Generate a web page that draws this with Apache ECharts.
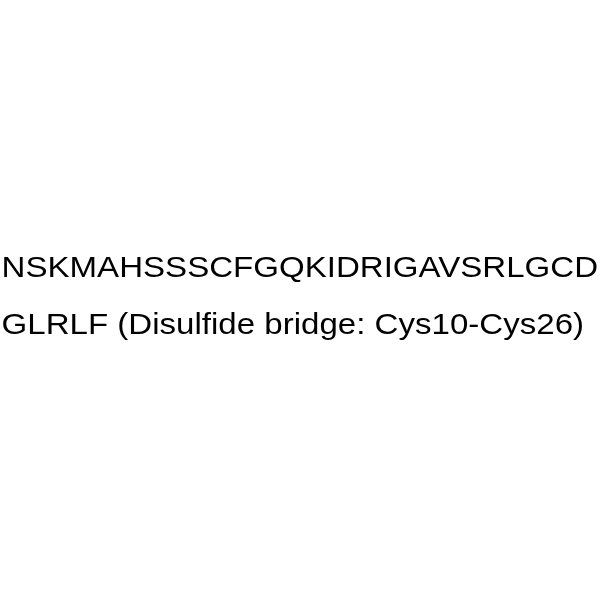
<!DOCTYPE html>
<html><head><meta charset="utf-8">
<script src="https://cdn.jsdelivr.net/npm/echarts@6/dist/echarts.min.js"></script>
<style>html,body{margin:0;padding:0;background:#fff}#c{width:600px;height:600px}</style>
</head><body><div id="c"></div>
<script>
const lines = ["NSKMAHSSSCFGQKIDRIGAVSRLGCD", "GLRLF (Disulfide bridge: Cys10-Cys26)"];
const lineCenters = [268.8, 325.5];
const chart = echarts.init(document.getElementById('c'), null, {renderer:'canvas'});
chart.setOption({
  backgroundColor: '#ffffff',
  graphic: lines.map((t, i) => ({
    type: 'text',
    x: 1.6,
    y: lineCenters[i],
    scaleX: 1.102,
    scaleY: 1,
    style: {
      text: t,
      fill: '#000000',
      fontSize: 30,
      fontFamily: '"Liberation Sans", Arial, sans-serif',
      align: 'left',
      verticalAlign: 'middle'
    }
  }))
});
</script></body></html>
